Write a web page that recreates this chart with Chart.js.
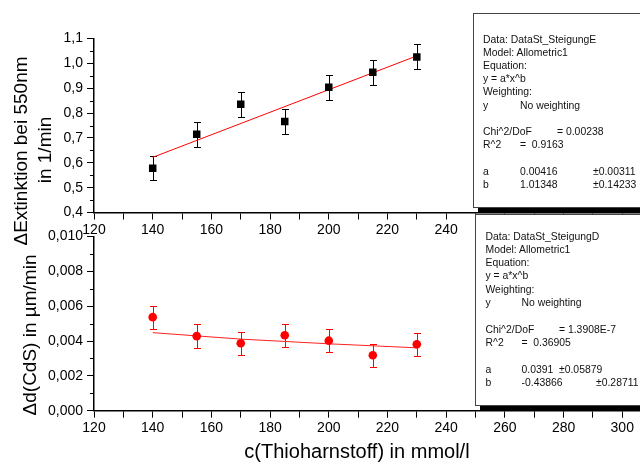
<!DOCTYPE html>
<html>
<head>
<meta charset="utf-8">
<script src="https://cdn.jsdelivr.net/npm/chart.js@4.4.1/dist/chart.umd.min.js"></script>
<style>
  html, body { margin: 0; padding: 0; width: 640px; height: 465px; overflow: hidden; background: #fff; }
  #wrap { position: relative; width: 640px; height: 465px; overflow: hidden; font-family: 'Liberation Sans', Arial, sans-serif; color: #000; }
  #wrap canvas { position: absolute; left: 0; top: 0; }
  .box { position: absolute; background: #fff; border: 1px solid #444; box-shadow: 5px 5px 0 #000; width: 220px; font-size: 10.4px; color: #111; }
  .box div { position: absolute; white-space: nowrap; line-height: 13px; }
  .title { position: absolute; white-space: nowrap; line-height: 1; transform: translate(-50%, -50%); }
  .rot { transform: translate(-50%, -50%) rotate(-90deg); font-size: 19px; }
</style>
</head>
<body>
<div id="wrap">
  <canvas id="chart-ext" width="660" height="465"></canvas>
  <canvas id="chart-cds" width="660" height="465"></canvas>

  <div class="title rot" style="left:20px; top:151px;">&Delta;Extinktion bei 550nm</div>
  <div class="title rot" style="left:44px; top:150px;">in 1/min</div>
  <div class="title rot" style="left:29px; top:335px;">&Delta;d(CdS) in &micro;m/min</div>
  <div class="title" style="left:357px; top:451px; font-size:20px;">c(Thioharnstoff) in mmol/l</div>

  <!-- Fit-Ergebnis Extinktion -->
  <div class="box" style="left:473px; top:13px; height:193px;">
    <div style="left:9px; top:18.5px;">Data: DataSt_SteigungE</div>
    <div style="left:9px; top:31.7px;">Model: Allometric1</div>
    <div style="left:9px; top:44.9px;">Equation:</div>
    <div style="left:9px; top:58.1px;">y = a*x^b</div>
    <div style="left:9px; top:71.3px;">Weighting:</div>
    <div style="left:9px; top:84.5px;">y</div>
    <div style="left:46px; top:84.5px;">No weighting</div>
    <div style="left:9px; top:110.9px;">Chi^2/DoF</div>
    <div style="left:83px; top:110.9px;">= 0.00238</div>
    <div style="left:9px; top:124.1px;">R^2</div>
    <div style="left:46px; top:124.1px;">=&nbsp; 0.9163</div>
    <div style="left:9px; top:150.5px;">a</div>
    <div style="left:46px; top:150.5px;">0.00416</div>
    <div style="left:119px; top:150.5px;">&plusmn;0.00311</div>
    <div style="left:9px; top:163.7px;">b</div>
    <div style="left:46px; top:163.7px;">1.01348</div>
    <div style="left:119px; top:163.7px;">&plusmn;0.14233</div>
  </div>

  <!-- Fit-Ergebnis Schichtdicke -->
  <div class="box" style="left:475px; top:214px; height:190px;">
    <div style="left:9.5px; top:14.5px;">Data: DataSt_SteigungD</div>
    <div style="left:9.5px; top:27.8px;">Model: Allometric1</div>
    <div style="left:9.5px; top:41.1px;">Equation:</div>
    <div style="left:9.5px; top:54.4px;">y = a*x^b</div>
    <div style="left:9.5px; top:67.7px;">Weighting:</div>
    <div style="left:9.5px; top:81px;">y</div>
    <div style="left:45.5px; top:81px;">No weighting</div>
    <div style="left:9.5px; top:107.6px;">Chi^2/DoF</div>
    <div style="left:83px; top:107.6px;">= 1.3908E-7</div>
    <div style="left:9.5px; top:120.9px;">R^2</div>
    <div style="left:45.5px; top:120.9px;">=&nbsp; 0.36905</div>
    <div style="left:9.5px; top:147.5px;">a</div>
    <div style="left:45.5px; top:147.5px;">0.0391</div>
    <div style="left:83px; top:147.5px;">&plusmn;0.05879</div>
    <div style="left:9.5px; top:160.8px;">b</div>
    <div style="left:45.5px; top:160.8px;">-0.43866</div>
    <div style="left:120px; top:160.8px;">&plusmn;0.28711</div>
  </div>
</div>

<script>
const conc = [140, 155, 170, 185, 200, 215, 230];

const extinction = [0.578, 0.715, 0.835, 0.766, 0.904, 0.964, 1.026];
const extinctionErr = [0.049, 0.05, 0.05, 0.05, 0.05, 0.05, 0.05];
const extFitX = [140, 230];
const extFitY = [0.622, 1.030];

const thickness = [0.00537, 0.00428, 0.00387, 0.00433, 0.00402, 0.00318, 0.00381];
const thicknessErr = [0.00066, 0.00067, 0.00066, 0.00067, 0.00066, 0.00066, 0.00067];
const cdsFitX = [140, 170, 200, 230];
const cdsFitY = [0.00448, 0.00411, 0.00384, 0.00361];

const xMin = 120, xMax = 310;

Chart.defaults.font.family = "'Liberation Sans', Arial, sans-serif";
Chart.defaults.font.size = 14;
Chart.defaults.color = "#000";

// Fehlerbalken zeichnen (unter den Punkten)
const errorBarPlugin = {
  id: "errorBars",
  beforeDatasetsDraw(chart) {
    const ctx = chart.ctx;
    const xs = chart.scales.x, ys = chart.scales.y;
    chart.data.datasets.forEach((ds) => {
      if (!ds.errors) return;
      ctx.save();
      ctx.strokeStyle = ds.errorColor;
      ctx.lineWidth = 1;
      ds.data.forEach((p, j) => {
        const px = Math.round(xs.getPixelForValue(p.x)) + 0.5;
        const top = Math.round(ys.getPixelForValue(p.y + ds.errors[j])) + 0.5;
        const bot = Math.round(ys.getPixelForValue(p.y - ds.errors[j])) + 0.5;
        ctx.beginPath();
        ctx.moveTo(px, top); ctx.lineTo(px, bot);
        ctx.moveTo(px - 3.5, top); ctx.lineTo(px + 3.5, top);
        ctx.moveTo(px - 3.5, bot); ctx.lineTo(px + 3.5, bot);
        ctx.stroke();
      });
      ctx.restore();
    });
  }
};

// kurze Nebenstriche an der y-Achse
const minorTickPlugin = {
  id: "minorTicks",
  afterDraw(chart) {
    const ys = chart.scales.y;
    const ctx = chart.ctx;
    ctx.save();
    ctx.strokeStyle = "#000";
    ctx.lineWidth = 1;
    ys.ticks.forEach((t) => {
      if (t.label !== "") return;
      const py = Math.round(ys.getPixelForValue(t.value)) + 0.5;
      ctx.beginPath();
      ctx.moveTo(ys.right - 4, py);
      ctx.lineTo(ys.right, py);
      ctx.stroke();
    });
    ctx.restore();
  }
};

function makePanel(canvasId, cfg) {
  return new Chart(document.getElementById(canvasId), {
    type: "scatter",
    data: {
      datasets: [
        {
          data: conc.map((x, i) => ({ x: x, y: cfg.values[i] })),
          errors: cfg.errors,
          errorColor: cfg.markerColor,
          pointStyle: cfg.pointStyle,
          pointRadius: cfg.pointRadius,
          backgroundColor: cfg.markerColor,
          borderColor: cfg.markerColor,
          borderWidth: 0
        },
        {
          type: "line",
          data: cfg.fitX.map((x, i) => ({ x: x, y: cfg.fitY[i] })),
          showLine: true,
          borderColor: cfg.fitColor,
          borderWidth: 1,
          pointRadius: 0,
          fill: false,
          tension: 0
        }
      ]
    },
    options: {
      responsive: false,
      animation: false,
      events: [],
      layout: { padding: cfg.padding },
      plugins: { legend: { display: false }, tooltip: { enabled: false } },
      scales: {
        x: {
          type: "linear",
          min: xMin,
          max: xMax,
          afterFit: (s) => { s.height = 30; },
          border: { color: "#000", width: 1.5 },
          grid: { drawOnChartArea: false, tickLength: 7, color: "#000", lineWidth: 1 },
          ticks: {
            stepSize: 10,
            autoSkip: false,
            maxRotation: 0,
            padding: 2,
            callback: (v) => (v % 20 === 0 ? String(v) : "")
          }
        },
        y: {
          min: cfg.yMin,
          max: cfg.yMax,
          afterFit: (s) => { s.width = 94; },
          border: { color: "#000", width: 1.5 },
          grid: {
            drawOnChartArea: false,
            tickLength: 7,
            color: "#000",
            lineWidth: 1,
            tickColor: (c) => (c.tick && c.tick.label === "" ? "rgba(0,0,0,0)" : "#000")
          },
          ticks: {
            stepSize: cfg.yStep,
            autoSkip: false,
            padding: 4,
            callback: cfg.yLabel
          }
        }
      }
    },
    plugins: [errorBarPlugin, minorTickPlugin]
  });
}

// oberes Diagramm: Extinktion
makePanel("chart-ext", {
  values: extinction,
  errors: extinctionErr,
  fitX: extFitX,
  fitY: extFitY,
  markerColor: "#000",
  fitColor: "#ff0000",
  pointStyle: "rect",
  pointRadius: 5.3,
  yMin: 0.4,
  yMax: 1.1,
  yStep: 0.05,
  yLabel: (v) => {
    const k = Math.round(v * 20);
    return k % 2 === 0 ? (k / 20).toFixed(1).replace(".", ",") : "";
  },
  padding: { left: 0, top: 38.5, right: 8.4, bottom: 222.5 }
});

// unteres Diagramm: Schichtdicke
makePanel("chart-cds", {
  values: thickness,
  errors: thicknessErr,
  fitX: cdsFitX,
  fitY: cdsFitY,
  markerColor: "#ff0000",
  fitColor: "#ff2020",
  pointStyle: "circle",
  pointRadius: 4.3,
  yMin: 0,
  yMax: 0.010,
  yStep: 0.001,
  yLabel: (v) => {
    const k = Math.round(v * 1000);
    return k % 2 === 0 ? (k / 1000).toFixed(3).replace(".", ",") : "";
  },
  padding: { left: 0, top: 236.5, right: 8.4, bottom: 24.3 }
});
</script>
</body>
</html>
